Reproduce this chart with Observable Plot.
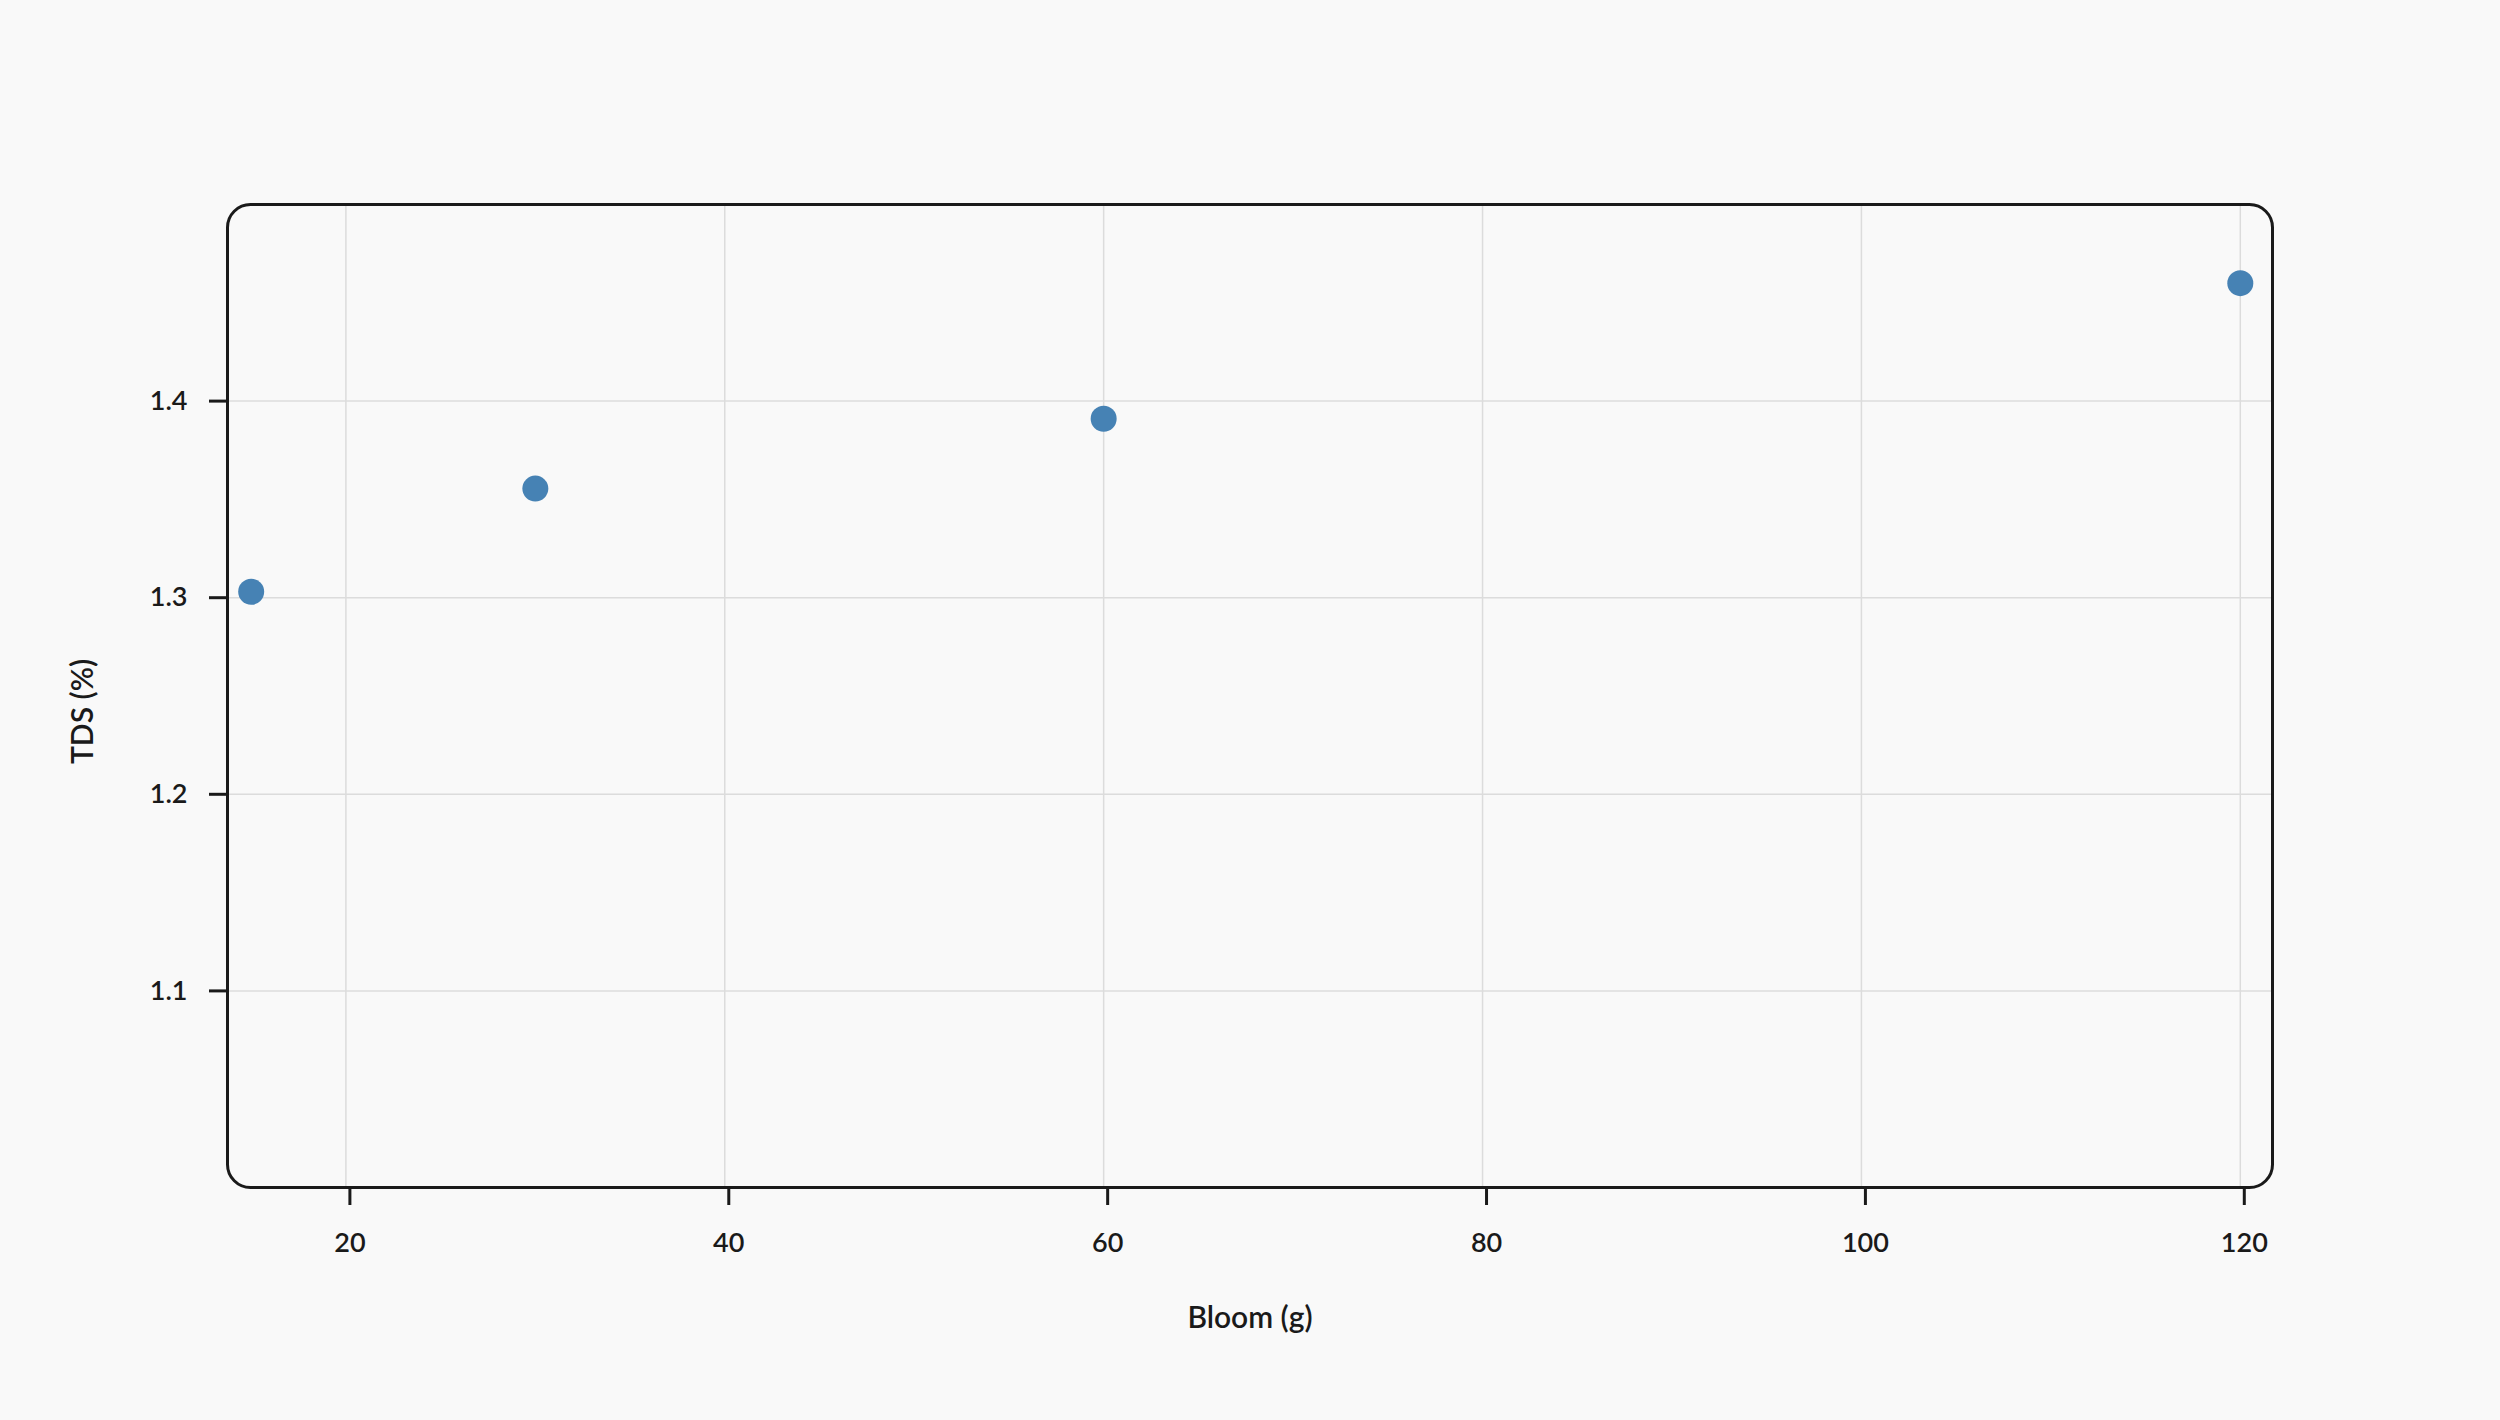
<!DOCTYPE html>
<html>
<head>
<meta charset="utf-8">
<script src="https://cdn.jsdelivr.net/npm/d3@7"></script>
<script src="https://cdn.jsdelivr.net/npm/@observablehq/plot@0.6"></script>
<style>
  html, body { margin: 0; padding: 0; background: #f9f9f9; }
  #chart { width: 2500px; height: 1420px; }
  svg { font-family: Lato, "Noto Sans", sans-serif; }
</style>
</head>
<body>
<div id="chart"></div>
<script>
const bloom = [15, 30, 60, 120];
const tds = [1.303, 1.3555, 1.391, 1.46];
const xTicks = [20, 40, 60, 80, 100, 120];
const yTicks = [1.1, 1.2, 1.3, 1.4];
const xLabel = "Bloom (g)";
const yLabel = "TDS (%)";

const data = bloom.map((b, i) => ({bloom: b, tds: tds[i]}));

const chart = Plot.plot({
  width: 2500,
  height: 1420,
  marginLeft: 227,
  marginRight: 228,
  marginTop: 204,
  marginBottom: 233,
  style: {background: "#f9f9f9", fontFamily: "Lato, 'Noto Sans', sans-serif", color: "#1a1a1a"},
  x: {domain: [13.75, 121.7]},
  y: {domain: [1.0, 1.5]},
  marks: [
    Plot.gridX(xTicks, {stroke: "#dcdcdc", strokeOpacity: 1, strokeWidth: 1.5}),
    Plot.gridY(yTicks, {stroke: "#dcdcdc", strokeOpacity: 1, strokeWidth: 1.5}),
    Plot.frame({stroke: "#1a1a1a", strokeWidth: 3, rx: 23, fill: "none"}),
    Plot.axisX(xTicks, {tickSize: 18, tickPadding: 27, dx: 4, fontSize: 27, fontWeight: 600, strokeWidth: 3, stroke: "#1a1a1a", label: null}),
    Plot.axisY(yTicks, {tickSize: 18, tickPadding: 22, fontSize: 27, fontWeight: 600, strokeWidth: 3, stroke: "#1a1a1a", label: null, tickFormat: d => d.toFixed(1)}),
    Plot.dot(data, {x: "bloom", y: "tds", r: 13, fill: "#4682b4", stroke: "none"}),
    Plot.text([xLabel], {frameAnchor: "bottom", dy: 140, fontSize: 30, fontWeight: 600, fill: "#1a1a1a"}),
    Plot.text([yLabel], {frameAnchor: "left", dx: -144, dy: 68, rotate: -90, fontSize: 30, fontWeight: 600, fill: "#1a1a1a"})
  ]
});
document.getElementById("chart").appendChild(chart);
</script>
</body>
</html>
